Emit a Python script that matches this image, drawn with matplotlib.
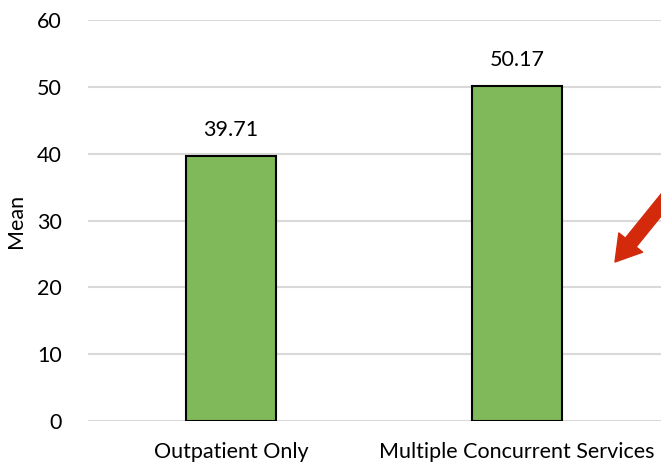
import matplotlib
matplotlib.use("Agg")
import matplotlib.pyplot as plt

categories = ["Outpatient Only", "Multiple Concurrent Services"]
means = [39.71, 50.17]
y_ticks = [0, 10, 20, 30, 40, 50, 60]

plt.rcParams["font.family"] = ["Lato", "DejaVu Sans"]

fig = plt.figure(figsize=(6.61, 4.65), dpi=100)
# axes run past the right edge of the figure (third category slot is cut off)
ax = fig.add_axes([88 / 661, 44 / 465, 858 / 661, 401 / 465])

x = list(range(len(categories)))
ax.bar(x, means, width=0.315, color="#7FB95A", edgecolor="black", linewidth=1.5, zorder=3)
for xi, v in zip(x, means):
    ax.annotate(f"{v:.2f}", (xi, v), xytext=(0, 11), textcoords="offset points",
                ha="center", va="bottom", fontsize=15.5)

ax.set_xlim(-0.5, 2.5)
ax.set_ylim(0, 60)
ax.set_yticks(y_ticks)
ax.set_xticks(x)
ax.set_xticklabels(categories)
ax.tick_params(axis="both", length=0, labelsize=15.5)
ax.tick_params(axis="y", pad=19)
ax.tick_params(axis="x", pad=15)
ax.yaxis.grid(True, color="#D9D9D9", linewidth=1.5, zorder=0)
for s in ax.spines.values():
    s.set_visible(False)
ax.set_ylabel("Mean", fontsize=15.5, labelpad=8)

# red pointer arrow coming in from the right
ax.annotate("", xy=(615 / 661, 1 - 262 / 465), xycoords="figure fraction",
            xytext=(700 / 661, 1 - 157 / 465), textcoords="figure fraction",
            arrowprops=dict(arrowstyle="simple,head_width=2.2,head_length=1.8,tail_width=1.0",
                            color="#D42A0C", shrinkA=0, shrinkB=0),
            annotation_clip=False)

fig.savefig("out.png", dpi=100)
